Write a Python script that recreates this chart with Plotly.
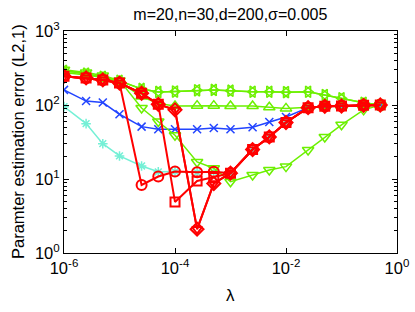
import plotly.graph_objects as go

lam = [1e-6, 2.5e-6, 5e-6, 1e-5, 2.5e-5, 5e-5, 1e-4, 2.5e-4, 5e-4,
       1e-3, 2.5e-3, 5e-3, 1e-2, 2.5e-2, 5e-2, 1e-1, 2.5e-1, 5e-1]

cyan_star = [95, 56, 30, 20.5, 15, 12.5, 12.6, 12.3, 12.5, 12, 25, 37, 58, 92, 96, 97, 99, 100]
blue_x = [160, 113, 108, 75, 51, 47, 47, 47, 49, 47, 50, 59, 69, 92, 96, 97, 99, 100]
green_up = [275, 255, 235, 205, 130, 105, 97, 98, 98, 97, 97, 93, 90, 93, 96, 97, 99, 100]
green_down = [300, 275, 250, 215, 91, 60, 39, 17, 14, 9.2, 11.3, 13.2, 14.7, 24.6, 37, 54, 86, 100]
green_lr = [290, 265, 240, 212, 165, 150, 152, 158, 160, 156, 151, 151, 149, 151, 136, 123, 107, 100]
red_circle = [245, 232, 218, 198, 8.3, 10.8, 12.6, 12.3, 12.5, 12, 25, 37, 58, 92, 96, 97, 99, 100]
red_square = [245, 232, 218, 198, 144, 102, 4.9, 9.4, 10.5, 12, 25, 37, 58, 92, 96, 97, 99, 100]
red_diamond = [245, 232, 218, 198, 144, 102, 86, 2.1, 8.7, 12, 25, 37, 58, 92, 96, 97, 99, 100]

xticks = [1e-6, 1e-4, 1e-2, 1]
xticktext = ["10<sup>-6</sup>", "10<sup>-4</sup>", "10<sup>-2</sup>", "10<sup>0</sup>"]
yticks = [1, 10, 100, 1000]
yticktext = ["10<sup>0</sup>", "10<sup>1</sup>", "10<sup>2</sup>", "10<sup>3</sup>"]

title_text = "m=20,n=30,d=200,σ=0.005"
xlabel = "λ"
ylabel = "Paramter estimation error (L2,1)"

CYAN = "#74F0D6"
BLUE = "#2244FF"
GREEN = "#6CF000"
RED = "#FF0000"

series = [
    (cyan_star, CYAN, "asterisk-open", 1.5, 8),
    (blue_x, BLUE, "x-thin-open", 1.5, 8),
    (green_up, GREEN, "triangle-up-open", 1.5, 10),
    (green_down, GREEN, "triangle-down-open", 1.5, 10),
    (green_lr, GREEN, "triangle-left-open", 1.5, 10),
    (green_lr, GREEN, "triangle-right-open", 1.5, 10),
    (red_circle, RED, "circle-open", 2, 10),
    (red_square, RED, "square-open", 2, 9),
    (red_diamond, RED, "diamond-open", 2, 10),
    (red_diamond, RED, "triangle-down-open", 2, 9),
]

fig = go.Figure()
for ys, col, sym, lw, ms in series:
    fig.add_trace(go.Scatter(
        x=lam, y=ys, mode="lines+markers",
        line=dict(color=col, width=lw),
        marker=dict(symbol=sym, size=ms, color=col, line=dict(color=col, width=lw)),
        showlegend=False,
    ))

font = "Liberation Sans, Arial, sans-serif"
fig.update_layout(
    width=415, height=312,
    margin=dict(l=64, r=18, t=31, b=59),
    paper_bgcolor="white", plot_bgcolor="white",
    font=dict(family=font, size=15, color="black"),
    title=dict(text=title_text, x=0.555, xanchor="center",
               y=0.955, yanchor="middle", font=dict(size=16)),
)
fig.update_xaxes(
    type="log", range=[-6, 0], tickvals=xticks, ticktext=xticktext,
    ticks="inside", ticklen=5, tickcolor="black", mirror="ticks",
    showline=True, linecolor="black", linewidth=1, showgrid=False, zeroline=False,
    tickfont=dict(size=16.5), ticklabeloverflow="allow", automargin=False,
)
fig.update_yaxes(
    type="log", range=[0, 3], tickvals=yticks, ticktext=yticktext,
    ticks="inside", ticklen=5, tickcolor="black", mirror="ticks",
    showline=True, linecolor="black", linewidth=1, showgrid=False, zeroline=False,
    minor=dict(ticks="inside", ticklen=3, tickcolor="black", dtick="D1", showgrid=False),
    tickfont=dict(size=16.5), ticklabeloverflow="allow", automargin=False,
)
fig.add_annotation(text=ylabel, xref="paper", yref="paper", x=0, y=0.5,
                   xshift=-46, textangle=-90, showarrow=False,
                   xanchor="center", yanchor="middle", font=dict(size=16.5))
fig.add_annotation(text=xlabel, xref="paper", yref="paper", x=0.5, y=0,
                   yshift=-42, showarrow=False,
                   xanchor="center", yanchor="middle", font=dict(size=17))
fig.write_html("out.html", config={"displayModeBar": False},
               post_script="document.body.style.margin='0';")
